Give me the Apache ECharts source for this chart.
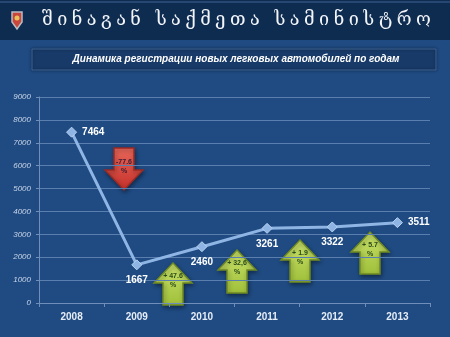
<!DOCTYPE html>
<html>
<head>
<meta charset="utf-8">
<script src="https://cdn.jsdelivr.net/npm/echarts@6/dist/echarts.min.js"></script>
<style>
  html, body { margin: 0; padding: 0; background: #1f4b82; }
  #wrap { position: relative; width: 450px; height: 337px; }
  #chart { width: 450px; height: 337px; }
  #head {
    position: absolute; left: 42px; top: 8px;
    font-family: "DejaVu Serif", serif; font-size: 18px; color: #f2f5fa;
    letter-spacing: 4.5px; white-space: nowrap;
  }
</style>
</head>
<body>
<div id="wrap">
  <div id="chart"></div>
  <div id="head">შინაგან საქმეთა სამინისტრო</div>
</div>
<script>
const years = ['2008', '2009', '2010', '2011', '2012', '2013'];
const registrations = [7464, 1667, 2460, 3261, 3322, 3511];
const changeLabels = ['-77.6', '+ 47.6', '+ 32,6', '+ 1.9', '+ 5.7'];
const yTicks = [0, 1000, 2000, 3000, 4000, 5000, 6000, 7000, 8000, 9000];

const chart = echarts.init(document.getElementById('chart'));

// arrow annotation polygons (pixel placement, decoration only)
function arrow(cx, top, bottom, up, text, fill, stroke) {
  const hw = 19, sw = 10, hh = 20;
  let pts;
  if (up) {
    pts = [[cx, top], [cx + hw, top + hh], [cx + sw, top + hh], [cx + sw, bottom],
           [cx - sw, bottom], [cx - sw, top + hh], [cx - hw, top + hh]];
  } else {
    pts = [[cx - sw, top], [cx + sw, top], [cx + sw, bottom - hh], [cx + hw, bottom - hh],
           [cx, bottom], [cx - hw, bottom - hh], [cx - sw, bottom - hh]];
  }
  const ty = up ? top + 18 : top + 19;
  return [
    { type: 'polygon', shape: { points: pts },
      style: { fill: fill, stroke: stroke, lineWidth: 1.5, shadowBlur: 4, shadowColor: 'rgba(0,0,0,0.4)', shadowOffsetX: 1, shadowOffsetY: 2 } },
    { type: 'text', x: cx, y: ty,
      style: { text: text + '\n%', fill: up ? '#2a4a1a' : '#3a1a30', font: 'bold 7px "Liberation Sans"', align: 'center', verticalAlign: 'middle', lineHeight: 9 } }
  ];
}

const red = { type: 'linear', x: 0, y: 0, x2: 0, y2: 1, colorStops: [{ offset: 0, color: '#e8675a' }, { offset: 1, color: '#c4302a' }] };
const green = { type: 'linear', x: 0, y: 0, x2: 0, y2: 1, colorStops: [{ offset: 0, color: '#c9e06a' }, { offset: 1, color: '#9fc03a' }] };

const graphics = [
  { type: 'rect', shape: { x: 0, y: 0, width: 450, height: 40 }, style: { fill: '#0e2b50' }, z: 0 },
  { type: 'line', shape: { x1: 0, y1: 2, x2: 450, y2: 2 }, style: { stroke: '#3e6592', lineWidth: 1 } },
  { type: 'polygon', shape: { points: [[12, 12], [22, 12], [22, 22], [17, 29], [12, 22]] }, style: { fill: '#c9473a', stroke: '#b8bcc4', lineWidth: 1.5 } },
  { type: 'circle', shape: { cx: 17, cy: 18, r: 2.5 }, style: { fill: '#e9c25a' } },
  { type: 'rect', shape: { x: 32, y: 49, width: 404, height: 21 },
    style: { fill: '#183a68', stroke: '#3c6394', lineWidth: 1, shadowBlur: 3, shadowColor: 'rgba(0,0,0,0.4)' } },
  { type: 'text', x: 236, y: 59.5,
    style: { text: 'Динамика регистрации новых легковых автомобилей по годам', fill: '#ffffff',
             font: 'italic bold 10px "Liberation Sans"', align: 'center', verticalAlign: 'middle' } }
];
graphics.push(...arrow(124, 148, 190, false, changeLabels[0], red, '#9a2a24'));
graphics.push(...arrow(173, 263, 305, true, changeLabels[1], green, '#6f8a22'));
graphics.push(...arrow(237, 250, 293, true, changeLabels[2], green, '#6f8a22'));
graphics.push(...arrow(300, 240, 282, true, changeLabels[3], green, '#6f8a22'));
graphics.push(...arrow(370, 232, 274, true, changeLabels[4], green, '#6f8a22'));

const option = {
  backgroundColor: '#1f4b82',
  animation: false,
  grid: { left: 39, right: 20, top: 97, bottom: 34 },
  xAxis: {
    type: 'category',
    data: years,
    boundaryGap: true,
    axisLine: { lineStyle: { color: '#6f8fba', width: 1 } },
    axisTick: { show: true, length: 4, lineStyle: { color: '#6f8fba' } },
    axisLabel: { color: '#e6edf7', fontFamily: 'Liberation Sans', fontWeight: 'bold', fontSize: 10, margin: 9 }
  },
  yAxis: {
    type: 'value',
    min: yTicks[0],
    max: yTicks[yTicks.length - 1],
    interval: 1000,
    axisLine: { show: true, lineStyle: { color: '#6f8fba', width: 1 } },
    axisTick: { show: true, length: 3, lineStyle: { color: '#6f8fba' } },
    splitLine: { lineStyle: { color: '#5a7eae', width: 1 } },
    axisLabel: { color: '#c9d5e8', fontFamily: 'Liberation Sans', fontStyle: 'italic', fontSize: 8, margin: 8,
                 formatter: v => String(v) }
  },
  series: [{
    type: 'line',
    data: registrations.map((v, i) => ({
      value: v,
      label: { position: (i === 0 || i === registrations.length - 1) ? 'right' : 'bottom' }
    })),
    symbol: 'diamond',
    symbolSize: 10,
    lineStyle: { color: '#8fb5e5', width: 3 },
    itemStyle: { color: '#8fb5e5', borderColor: '#b9d2f0', borderWidth: 1 },
    label: { show: true, color: '#ffffff', fontFamily: 'Liberation Sans', fontWeight: 'bold', fontSize: 10, distance: 5 },
    z: 3
  }],
  graphic: graphics
};
chart.setOption(option);
</script>
</body>
</html>
